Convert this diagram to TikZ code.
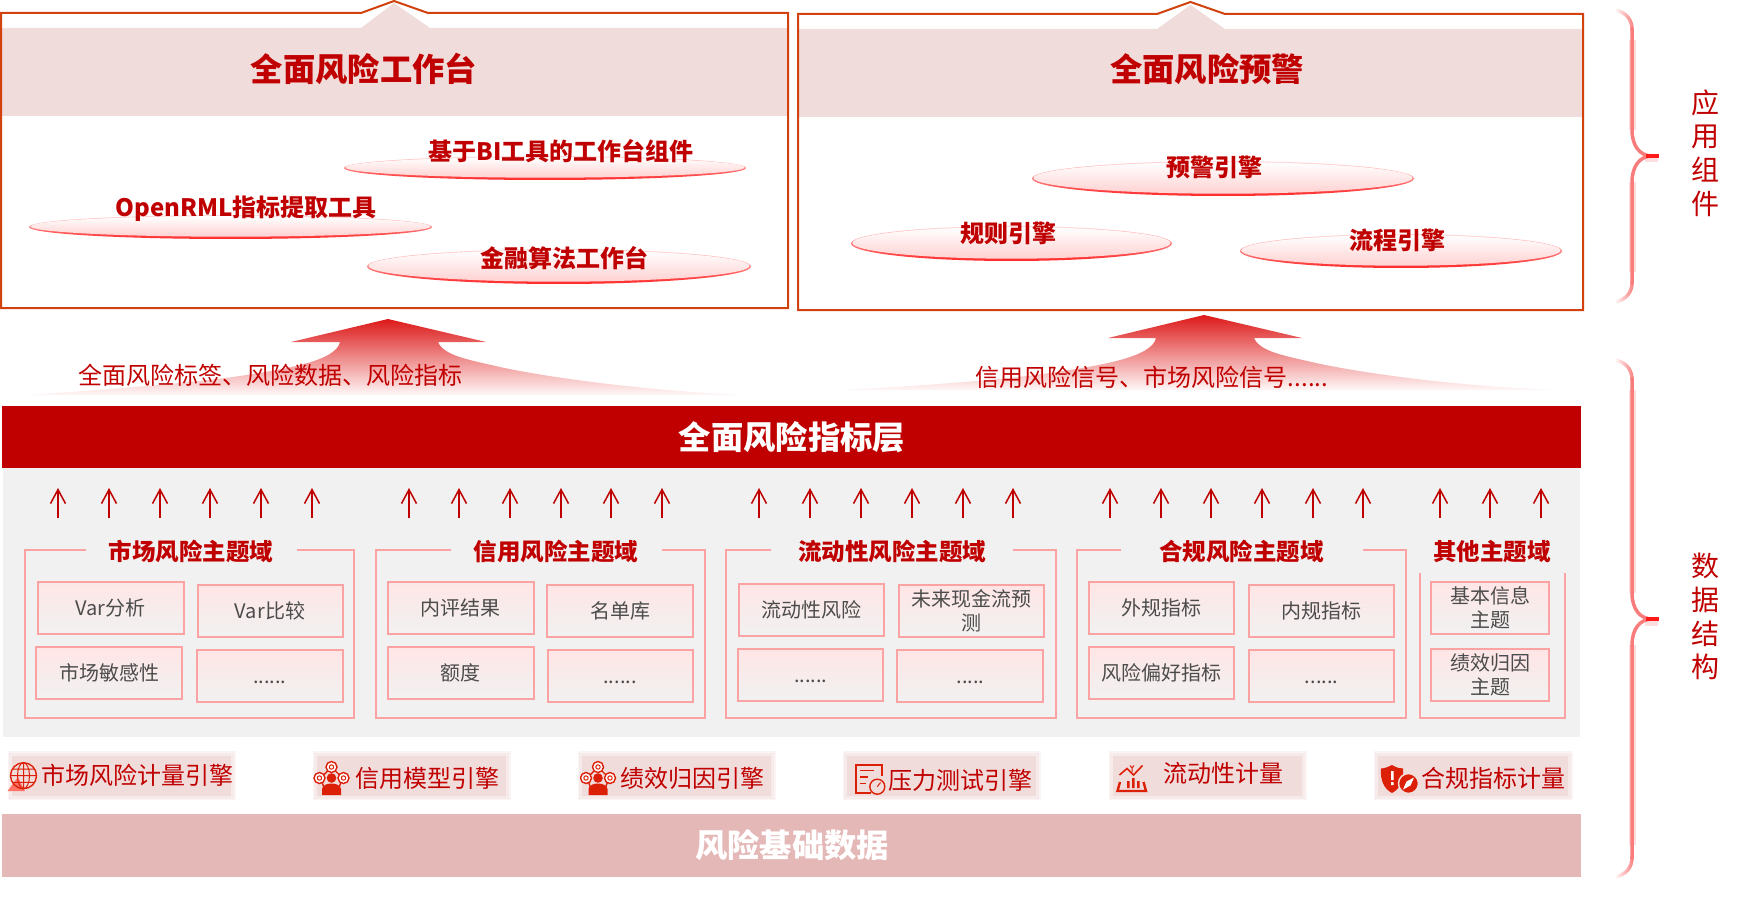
\documentclass[tikz,border=0pt]{standalone}
\usepackage{fontspec}
\usepackage{xcolor}
\usetikzlibrary{arrows.meta,shapes.geometric,fadings}
\setmainfont{Noto Sans CJK SC}
\definecolor{riskred}{HTML}{C00000}
\definecolor{frameline}{HTML}{D2420F}
\definecolor{bandpink}{HTML}{F1DCDC}
\definecolor{itemline}{HTML}{FBA3A3}
\definecolor{greyback}{HTML}{F1F1F1}
\definecolor{baserose}{HTML}{E5B8B8}
\definecolor{iconred}{HTML}{DC2008}
\definecolor{bracered}{HTML}{F97C7C}
\tikzfading[name=fadeinleft, left color=transparent!100, right color=transparent!0]
\tikzset{
	titletext/.style={font=\fontsize{32.3}{36}\selectfont\bfseries, text=riskred, inner sep=0},
	disctext/.style={font=\fontsize{24}{28}\selectfont\bfseries, text=riskred, inner sep=0},
	flowtext/.style={font=\fontsize{24}{28}\selectfont, text=riskred, inner sep=0},
	bartext/.style={font=\fontsize{32.3}{36}\selectfont\bfseries, text=white, inner sep=0},
	domaintext/.style={font=\fontsize{23.5}{28}\selectfont\bfseries, text=riskred, inner sep=0},
	sidetext/.style={font=\fontsize{28}{33.8}\selectfont, text=riskred, inner sep=0, align=center},
	frameline/.style={draw=itemline, line width=2pt},
	itembox/.style={draw=itemline, line width=2pt, top color=red!10!white, bottom color=greyback, minimum height=52pt, inner sep=0, align=center, font=\fontsize{20}{24}\selectfont, text=black!70},
	engineback/.style={preaction={draw=bandpink!30!white, line width=6pt}, fill=bandpink, draw=bandpink!60!white, line width=3pt, minimum height=43pt, inner sep=0},
	enginetext/.style={font=\fontsize{24}{28}\selectfont, text=riskred, inner sep=0},
	uparrow/.style={draw=riskred, line width=1.5pt, -{Straight Barb[length=14pt,width=15pt]}},
	bigarrow/.style={top color=red!85!black!90!white, middle color=red!38!white, bottom color=red!3!white, draw=none},
	iconline/.style={draw=iconred, line width=1.4pt},
	coinicon/.pic={
		\draw[iconline] (0,-11) -- (-11,0) (0,-11) -- (11,0) (-11,0) -- (-7,11) (11,0) -- (7,11);
		\foreach \cx/\cy in {0/-11, -12/0, 12/0} {
			\draw[iconline, fill=white] (\cx,\cy) circle (5.5);
			\draw[iconline, line width=1pt] (\cx,\cy) circle (2.2);
		}
		\fill[iconred] (0,0) circle (4.8);
		\fill[iconred] (-9.5,17) -- (-9.5,11) .. controls (-9,7) and (-4,5.5) .. (0,5.5) .. controls (4,5.5) and (9,7) .. (9.5,11) -- (9.5,17) -- cycle;
	}
}
\begin{document}
\begin{tikzpicture}[x=1pt,y=-1pt]
	\useasboundingbox (0,0) rectangle (1742,901);

	\fill[bandpink] (2,28) -- (361,28) -- (394,3) -- (430,28) -- (787,28) -- (787,116) -- (2,116) -- cycle;
	\draw[draw=frameline, line width=2pt] (1,13) -- (361,13) -- (394,1) -- (428,13) -- (788,13) -- (788,308) -- (1,308) -- cycle;
	\fill[bandpink] (798,29) -- (1157,29) -- (1190.5,5) -- (1225,29) -- (1582,29) -- (1582,117) -- (798,117) -- cycle;
	\draw[draw=frameline, line width=2pt] (798,14) -- (1157,14) -- (1190.5,2) -- (1225,14) -- (1583,14) -- (1583,310) -- (798,310) -- cycle;
	\node (worktitle) at (364,69) [titletext] {全面风险工作台};
	\node (warntitle) at (1207,69) [titletext] {全面风险预警};

	\foreach \name/\x/\y/\w/\h in {bi/545/168/402/24, rml/230.5/227/403/24, algo/559/266.5/384/35, warn/1223/178.5/382/35, rule/1011.5/243.5/321/35, flow/1401/251/322/34} {
		\node (disc\name) at (\x,\y) [ellipse, inner sep=0, minimum width=\w, minimum height=\h, top color=red!14!white, bottom color=red!85!white] {};
		\node (inner\name) at (\x,\y-0.6) [ellipse, inner sep=0, minimum width=\w-3, minimum height=\h-3.4, top color=white, bottom color=red!18!white] {};
	}
	\node (bilabel) at (561,151) [disctext] {基于BI工具的工作台组件};
	\node (rmllabel) at (246,209) [disctext] {OpenRML指标提取工具};
	\node (algolabel) at (564,258) [disctext] {金融算法工作台};
	\node (warnlabel) at (1214.5,167) [disctext] {预警引擎};
	\node (rulelabel) at (1008,233) [disctext] {规则引擎};
	\node (flowlabel) at (1397,240) [disctext] {流程引擎};

	\shade[bigarrow] (388,319) -- (486,342) -- (438,342) .. controls (444,356) and (470,360) .. (500,367) .. controls (550,378) and (650,391) .. (744,395) -- (28,395) .. controls (100,390) and (180,384) .. (233,377) .. controls (280,370) and (336,362) .. (340,342) -- (291,342) -- cycle;
	\shade[bigarrow] (1204,315) -- (1302,338) -- (1254,338) .. controls (1260,352) and (1286,356) .. (1316,363) .. controls (1366,374) and (1466,387) .. (1557,390) -- (842,390) .. controls (920,386) and (1000,380) .. (1050,373) .. controls (1096,366) and (1152,358) .. (1156,338) -- (1108,338) -- cycle;
	\node (leftflow) at (270,375) [flowtext] {全面风险标签、风险数据、风险指标};
	\node (rightflow) at (1152,377) [flowtext] {信用风险信号、市场风险信号......};

	\node (greyback) at (791.5,602.5) [fill=greyback, minimum width=1577, minimum height=269, inner sep=0] {};
	\node (indexbar) at (791.5,437) [fill=riskred, minimum width=1579, minimum height=62, inner sep=0] {};
	\node (indextext) at (792,437) [bartext] {全面风险指标层};

	\foreach \x in {58,109,160,210,261,312, 409,459,510,561,611,662, 759,810,861,912,963,1013, 1110,1161,1211,1262,1313,1363, 1440,1490,1541} {
		\coordinate (foot\x) at (\x,518);
		\coordinate (head\x) at (\x,488);
		\draw[uparrow] (foot\x) -- (head\x);
	}

	\draw[frameline] (86,550) -- (25,550) -- (25,718) -- (354,718) -- (354,550) -- (297,550);
	\draw[frameline] (451,550) -- (376,550) -- (376,718) -- (705,718) -- (705,550) -- (662,550);
	\draw[frameline] (771,550) -- (726,550) -- (726,718) -- (1056,718) -- (1056,550) -- (1013,550);
	\draw[frameline] (1121,550) -- (1077,550) -- (1077,718) -- (1406,718) -- (1406,550) -- (1363,550);
	\draw[frameline] (1420,573) -- (1420,718) -- (1565,718) -- (1565,573);
	\node (markettitle) at (191,551) [domaintext] {市场风险主题域};
	\node (credittitle) at (556,551) [domaintext] {信用风险主题域};
	\node (liquidtitle) at (892,551) [domaintext] {流动性风险主题域};
	\node (complytitle) at (1241.5,551) [domaintext] {合规风险主题域};
	\node (othertitle) at (1492,552) [domaintext] {其他主题域};

	\node (varan) at (110.6,608) [itembox, minimum width=146] {Var分析};
	\node (varcmp) at (270,611) [itembox, minimum width=145] {Var比较};
	\node (sensitive) at (109.3,673) [itembox, minimum width=146] {市场敏感性};
	\node (marketmore) at (269.8,676) [itembox, minimum width=145.5] {\vphantom{市}......};
	\node (rating) at (460.5,608) [itembox, minimum width=146] {内评结果};
	\node (namelist) at (620.3,611) [itembox, minimum width=146] {名单库};
	\node (quota) at (460.5,673) [itembox, minimum width=146] {额度};
	\node (creditmore) at (620,676) [itembox, minimum width=145] {\vphantom{市}......};
	\node (liqrisk) at (811.3,609.6) [itembox, minimum width=145.5] {流动性风险};
	\node (cashflow) at (971.4,611) [itembox, minimum width=145.5] {未来现金流预\\测};
	\node (liqmore) at (810.7,674.8) [itembox, minimum width=145.5] {\vphantom{市}......};
	\node (liqmoreb) at (970.4,676) [itembox, minimum width=146] {\vphantom{市}.....};
	\node (outrule) at (1161.3,608) [itembox, minimum width=145.5] {外规指标};
	\node (inrule) at (1321.6,611) [itembox, minimum width=145.5] {内规指标};
	\node (appetite) at (1161.3,673) [itembox, minimum width=145.5] {风险偏好指标};
	\node (complymore) at (1321.6,676) [itembox, minimum width=145.5] {\vphantom{市}......};
	\node (basicinfo) at (1490,608) [itembox, minimum width=118] {基本信息\\主题};
	\node (attrib) at (1490,675) [itembox, minimum width=118] {绩效归因\\主题};

	\node (engineone) at (121.5,775.5) [engineback, minimum width=222] {};
	\node (enginetwo) at (411.5,775.5) [engineback, minimum width=192] {};
	\node (enginethree) at (676.5,775.5) [engineback, minimum width=192] {};
	\node (enginefour) at (941.5,775.5) [engineback, minimum width=192] {};
	\node (enginefive) at (1207.5,775.5) [engineback, minimum width=192] {};
	\node (enginesix) at (1473,775.5) [engineback, minimum width=193] {};

	\fill[red!55!white!90!orange] (7.5,791) -- (18,777) -- (25,791) -- cycle;
	\draw[iconline] (23.5,775.7) circle (13);
	\draw[iconline, line width=1pt] (23.5,775.7) ellipse (6 and 13) (23.5,762.7) -- (23.5,788.7) (10.5,775.7) -- (36.5,775.7) (12.5,769) -- (34.5,769) (12.5,782.4) -- (34.5,782.4);
	\pic at (331.5,778) {coinicon};
	\pic at (598,778) {coinicon};

	\draw[iconline, line width=2pt] (881.5,776) -- (881.5,764.5) -- (856,764.5) -- (856,793) -- (871,793);
	\draw[iconline, line width=1.8pt] (860,770.5) -- (874,770.5) (860,777) -- (868,777) (860,783.5) -- (866,783.5);
	\draw[iconline, fill=bandpink] (877.3,786.7) circle (7.5);
	\draw[iconline, line width=1pt] (877.3,786.7) -- (880.5,782.5);

	\draw[iconline, line width=1.6pt] (1119.5,775) -- (1127,768.5) -- (1133.5,775) -- (1142.5,765.5);
	\draw[iconline, line width=2.4pt] (1120,782) -- (1117.5,791) -- (1146,791) -- (1143.5,782);
	\fill[iconred] (1127,781) rectangle (1129.5,788) (1132,778) rectangle (1134.5,788) (1137,781) rectangle (1139.5,788);
	\draw[iconline, line width=1pt] (1130,765.5) -- (1132,768) -- (1134,765.5) (1132,768) -- (1132,772);

	\fill[iconred] (1392,765) .. controls (1386,768) and (1383,768.5) .. (1381,768.5) .. controls (1380,780) and (1384,789) .. (1392,793) .. controls (1400,789) and (1404,780) .. (1403,768.5) .. controls (1400,768.5) and (1397,768) .. (1392,765) -- cycle;
	\fill[white] (1391.2,771) rectangle (1393.6,780) (1391.2,782) rectangle (1393.6,785);
	\draw[fill=iconred, draw=bandpink, line width=1.5pt] (1408.5,783.5) circle (10);
	\fill[white] (1414,777.5) -- (1410.5,785.5) -- (1403,789.5) -- (1406.5,781.5) -- cycle;

	\node (enginelabelone) at (137.5,775.5) [enginetext] {市场风险计量引擎};
	\node (enginelabeltwo) at (427,778) [enginetext] {信用模型引擎};
	\node (enginelabelthree) at (692,778) [enginetext] {绩效归因引擎};
	\node (enginelabelfour) at (960,780) [enginetext] {压力测试引擎};
	\node (enginelabelfive) at (1223,773) [enginetext] {流动性计量};
	\node (enginelabelsix) at (1493,778) [enginetext] {合规指标计量};

	\node (basebar) at (791.5,845.5) [fill=baserose, minimum width=1579, minimum height=63, inner sep=0] {};
	\node (basetext) at (792,845) [bartext] {风险基础数据};

	\draw[bracered!25!white, line width=7pt] (1632,40) -- (1632,130) (1632,182) -- (1632,272);
	\draw[bracered!25!white, line width=5pt] (1658,160) -- (1645,160);
	\draw[bracered, line width=3.5pt] (1632,28) -- (1632,130) .. controls (1632,146) and (1640,156) .. (1652,156);
	\draw[bracered, line width=3.5pt] (1652,156) .. controls (1640,156) and (1632,166) .. (1632,182) -- (1632,284);
	\draw[bracered, line width=3.5pt, path fading=fadeinleft] (1616,10) .. controls (1626,13) and (1632,19) .. (1632,30);
	\draw[bracered, line width=3.5pt, path fading=fadeinleft] (1616,302) .. controls (1626,299) and (1632,293) .. (1632,282);
	\draw[red!90!white, line width=3.5pt] (1646,156) -- (1659,156);
	\draw[bracered!25!white, line width=7pt] (1632,390) -- (1632,593) (1632,645) -- (1632,845);
	\draw[bracered!25!white, line width=5pt] (1658,623) -- (1645,623);
	\draw[bracered, line width=3.5pt] (1632,378) -- (1632,593) .. controls (1632,609) and (1640,619) .. (1652,619);
	\draw[bracered, line width=3.5pt] (1652,619) .. controls (1640,619) and (1632,629) .. (1632,645) -- (1632,859);
	\draw[bracered, line width=3.5pt, path fading=fadeinleft] (1616,360) .. controls (1626,363) and (1632,369) .. (1632,380);
	\draw[bracered, line width=3.5pt, path fading=fadeinleft] (1616,877) .. controls (1626,874) and (1632,868) .. (1632,857);
	\draw[red!90!white, line width=3.5pt] (1646,619) -- (1659,619);
	\node (applabel) at (1705,153) [sidetext] {应\\用\\组\\件};
	\node (datalabel) at (1705,616.5) [sidetext] {数\\据\\结\\构};
\end{tikzpicture}
\end{document}
